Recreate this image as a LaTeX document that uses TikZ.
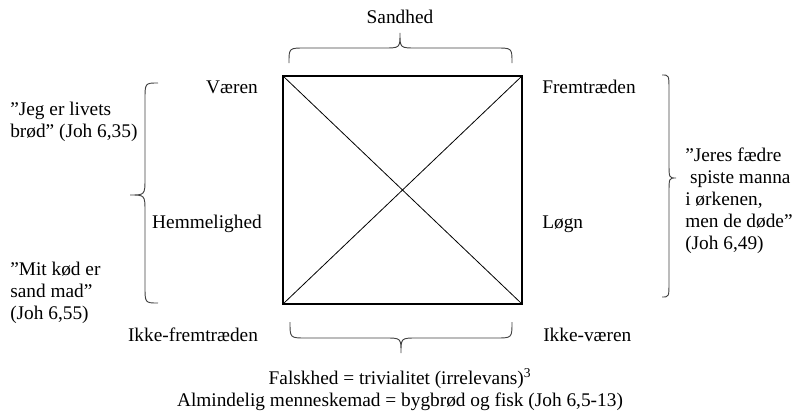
\documentclass[tikz,border=0pt]{standalone}
\usepackage{fontspec}
\setmainfont{Liberation Serif}
\begin{document}
\begin{tikzpicture}[x=0.75pt,y=-0.75pt,
  txt/.style={inner sep=0pt,font=\fontsize{14.5}{16.5}\selectfont},
  multi/.style={txt,align=left,anchor=north west},
  bracestyle/.style={draw=black!75,line width=0.7pt},
  sq/.style={line width=1.6pt,line join=miter},
  diag/.style={line width=0.6pt}]
\useasboundingbox (0,0) rectangle (793,414);
% square corners
\coordinate (tl) at (283,76);
\coordinate (tr) at (522,76);
\coordinate (br) at (522,304);
\coordinate (bl) at (283,304);
\draw[diag] (tl) -- (br);
\draw[diag] (tr) -- (bl);
\draw[sq] (tl) rectangle (br);
% braces
\draw[bracestyle] (289,63) .. controls (289,48) .. (305,48) -- (384,48)
  .. controls (400,48) .. (400,33) .. controls (400,48) .. (416,48) -- (496,48)
  .. controls (512,48) .. (512,63);
\draw[bracestyle] (290,322) .. controls (290,338) .. (306,338) -- (385,338)
  .. controls (401,338) .. (401,353) .. controls (401,338) .. (417,338) -- (496,338)
  .. controls (512,338) .. (512,322);
\draw[bracestyle] (158,83) .. controls (145,83) .. (145,100) -- (145,178)
  .. controls (145,195) .. (130,195) .. controls (145,195) .. (145,212) -- (145,286)
  .. controls (145,303) .. (158,303);
\draw[bracestyle] (662,75) .. controls (669,75) .. (669,90) -- (669,163)
  .. controls (669,178) .. (676,178) .. controls (669,178) .. (669,193) -- (669,282)
  .. controls (669,297) .. (662,297);
% labels
\node[txt,anchor=base] (sandhed) at (400,23) {Sandhed};
\node[txt,anchor=base] (vaeren) at (232,93) {Væren};
\node[txt,anchor=base west] (frem) at (542,93) {Fremtræden};
\node[txt,anchor=base] (hemm) at (207,228) {Hemmelighed};
\node[txt,anchor=base west] (logn) at (542,228) {Løgn};
\node[txt,anchor=base] (ikkefrem) at (193,341) {Ikke-fremtræden};
\node[txt,anchor=base west] (ikkevaer) at (543,341) {Ikke-væren};
\node[multi] (q1) at (10,101.7) {”Jeg er livets\\brød” (Joh 6,35)};
\node[multi] (q2) at (10,261.7) {”Mit kød er\\sand mad”\\(Joh 6,55)};
\node[multi] (q3) at (685,147.7) {”Jeres fædre\\\hspace*{0.25em}spiste manna\\i ørkenen,\\men de døde”\\(Joh 6,49)};
\node[txt,anchor=base] (fals) at (400,384) {Falskhed = trivialitet (irrelevans)\textsuperscript{3}};
\node[txt,anchor=base] (alm) at (400,406) {Almindelig menneskemad = bygbrød og fisk (Joh 6,5-13)};
\end{tikzpicture}
\end{document}
